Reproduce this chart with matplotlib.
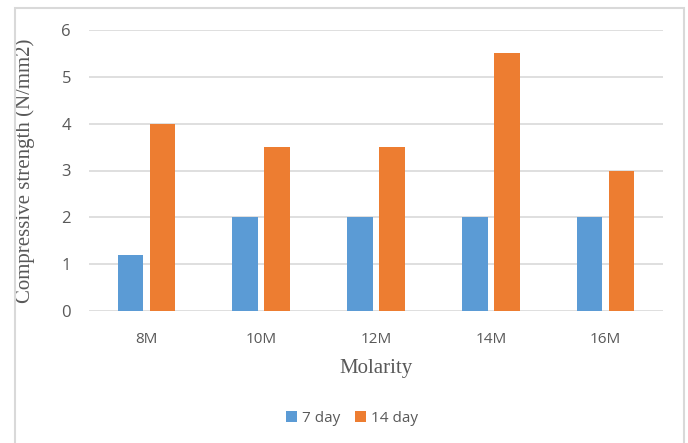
import numpy as np
import matplotlib.pyplot as plt
from matplotlib.patches import Rectangle

molarity = ['8M', '10M', '12M', '14M', '16M']
day7 = [1.2, 2, 2, 2, 2]
day14 = [4, 3.5, 3.5, 5.5, 3]

blue = '#5B9BD5'
orange = '#ED7D31'
txt = '#595959'
sans = ['Open Sans', 'DejaVu Sans']
serif = ['Liberation Serif', 'DejaVu Serif']

fig = plt.figure(figsize=(6.88, 4.43), dpi=100)
ax = fig.add_axes([89 / 688, 1 - 311 / 443, (663 - 89) / 688, (311 - 30) / 443])

# outer chart frame, bottom edge runs off the page
fig.patches.append(Rectangle((14.5 / 688, -0.1), (683.5 - 14.5) / 688, 1.1 - 7.5 / 443,
                             transform=fig.transFigure, fill=False,
                             edgecolor='#D9D9D9', linewidth=1.5))

x = np.arange(len(molarity))
w = 0.223
gap = 0.055
ax.bar(x - (w + gap) / 2, day7, w, color=blue, label='7 day', zorder=3)
ax.bar(x + (w + gap) / 2, day14, w, color=orange, label='14 day', zorder=3)

ax.set_xlim(-0.5, len(molarity) - 0.5)
ax.set_ylim(0, 6)
ax.set_yticks(range(0, 7))
ax.set_xticks(x)
ax.set_xticklabels(molarity, family=sans, fontsize=11, color=txt)
for lbl in ax.get_yticklabels():
    lbl.set_family(sans)
    lbl.set_fontsize(12)
    lbl.set_color(txt)
ax.tick_params(axis='x', length=0, pad=15)
ax.tick_params(axis='y', length=0, pad=13)
ax.grid(axis='y', color='#D9D9D9', linewidth=1.2, zorder=0)
for s in ax.spines.values():
    s.set_visible(False)

ax.set_xlabel('Molarity', family=serif, fontsize=15, color=txt, labelpad=9)
ax.set_ylabel('Compressive strength (N/mm2)', family=serif, fontsize=15, color=txt, labelpad=19)

ax.legend(loc='center', bbox_to_anchor=(352 / 688, 1 - 418 / 443),
          bbox_transform=fig.transFigure, ncol=2, frameon=False,
          prop={'family': sans, 'size': 11}, labelcolor=txt,
          handlelength=0.7, handleheight=0.7, handletextpad=0.3, columnspacing=1.0)

fig.savefig('out.png', dpi=100)
